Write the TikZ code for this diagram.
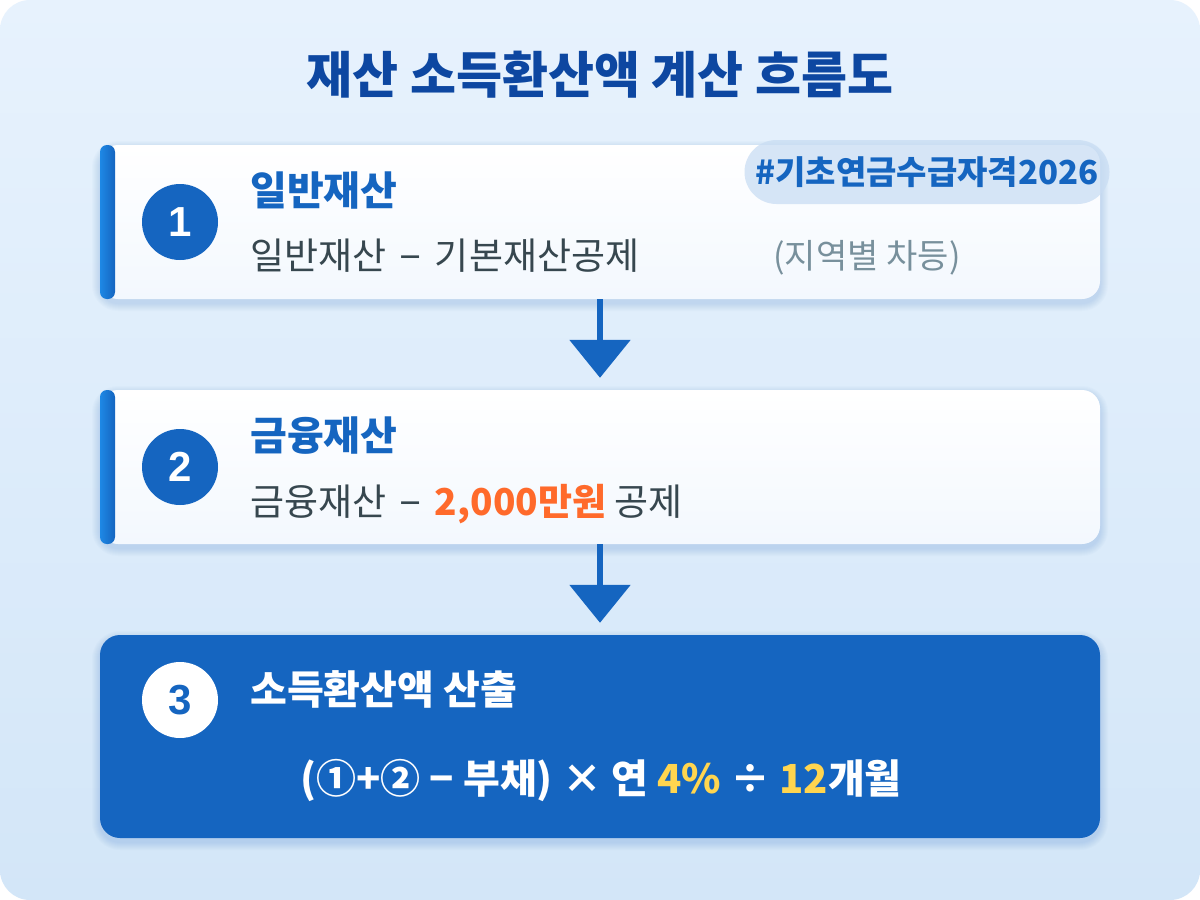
\documentclass[tikz,border=0pt]{standalone}
\usepackage{fontspec}
\setmainfont{Noto Sans CJK KR}
\newfontfamily\latinbold{Liberation Sans}[BoldFont={* Bold}]
\usetikzlibrary{arrows.meta}
\definecolor{bgtop}{HTML}{E7F2FD}
\definecolor{bgbot}{HTML}{D3E6F8}
\definecolor{titleblue}{HTML}{0D47A1}
\definecolor{mainblue}{HTML}{1565C0}
\definecolor{barblue}{HTML}{1E88E5}
\definecolor{bodygrey}{HTML}{37474F}
\definecolor{notegrey}{HTML}{78909C}
\definecolor{tagfill}{HTML}{C9DDF3}
\definecolor{accentorange}{HTML}{FF6A2B}
\definecolor{accentyellow}{HTML}{FFD54F}
\definecolor{boxtop}{HTML}{FFFFFF}
\definecolor{boxbot}{HTML}{F3F8FE}
\definecolor{shadowblue}{HTML}{1565C0}
\newcommand{\wideminus}{\hspace{13bp}{\latinbold −}\hspace{14bp}}
\tikzset{
  stepcard/.style={rounded corners=18bp, top color=boxtop, bottom color=boxbot, draw=none},
  finalcard/.style={rounded corners=20bp, fill=mainblue, draw=none},
  softshadow/.style={fill=shadowblue, opacity=0.018, draw=none},
  accentbar/.style={rounded corners=7bp, left color=barblue, right color=mainblue, draw=none},
  numcircle/.style={circle, fill=mainblue, minimum size=76bp, inner sep=0pt,
    text=white, font=\fontsize{42bp}{46bp}\selectfont\latinbold\bfseries},
  numcirclewhite/.style={numcircle, fill=white, text=mainblue},
  headtext/.style={anchor=base west, inner sep=0pt, text=mainblue, font=\fontsize{40bp}{44bp}\selectfont\bfseries},
  bodytext/.style={anchor=base west, inner sep=0pt, text=bodygrey, font=\fontsize{37bp}{41bp}\selectfont},
  flowarrow/.style={draw=mainblue, line width=6bp, -{Triangle[width=60bp,length=38bp]}, shorten >=12bp},
}
\begin{document}
\begin{tikzpicture}[x=1bp,y=-1bp]
\useasboundingbox (0,0) rectangle (1200,900);
\fill[white] (0,0) rectangle (1200,900);
\path[rounded corners=30bp, top color=bgtop, bottom color=bgbot] (0,0) rectangle (1200,900);

\node[text=titleblue, font=\fontsize{50bp}{54bp}\selectfont\bfseries] (title) at (600,75) {재산 소득환산액 계산 흐름도};

% soft shadows
\foreach \i in {1,...,8} {
  \path[softshadow, rounded corners={18bp+\i bp}] (100-\i,145-\i+4) rectangle (1100+\i,299+\i+4);
  \path[softshadow, rounded corners={18bp+\i bp}] (100-\i,390-\i+4) rectangle (1100+\i,544+\i+4);
  \path[softshadow, rounded corners={20bp+\i bp}] (100-\i,635-\i+4) rectangle (1100+\i,838+\i+4);
}

% Card 1
\path[stepcard] (100,145) rectangle (1100,299);
\node[inner sep=0pt, minimum width=1000bp, minimum height=154bp] (box1) at (600,222) {};
\path[accentbar] (100,145) rectangle (115,299);
\node[numcircle] (c1) at (180,222) {1};
\node[headtext] (h1) at (250,205) {일반재산};
\node[bodytext] (b1) at (250,269) {일반재산\wideminus 기본재산공제};
\node[fill=tagfill, fill opacity=0.75, text opacity=1, rounded corners=32bp, minimum width=365bp, minimum height=64bp,
  text=mainblue, font=\fontsize{33bp}{37bp}\selectfont\bfseries] (tag) at (927,172) {\#기초연금수급자격2026};
\node[text=notegrey, font=\fontsize{34bp}{38bp}\selectfont] (note) at (867,258) {(지역별 차등)};

% Card 2
\path[stepcard] (100,390) rectangle (1100,544);
\node[inner sep=0pt, minimum width=1000bp, minimum height=154bp] (box2) at (600,467) {};
\path[accentbar] (100,390) rectangle (115,544);
\node[numcircle] (c2) at (180,467) {2};
\node[headtext] (h2) at (250,450) {금융재산};
\node[bodytext] (b2) at (250,515) {금융재산\wideminus\textcolor{accentorange}{\bfseries 2,000만원} 공제};

% Card 3
\path[finalcard] (100,635) rectangle (1100,838);
\node[inner sep=0pt, minimum width=1000bp, minimum height=203bp] (box3) at (600,736.5) {};
\node[numcirclewhite] (c3) at (180,700) {3};
\node[headtext, text=white] (h3) at (250,704) {소득환산액 산출};
\node[text=white, font=\fontsize{40bp}{44bp}\selectfont\bfseries] (formula) at (601,780)
  {(①+② − 부채) × 연 \textcolor{accentyellow}{4\%} ÷ \textcolor{accentyellow}{12}개월};

% Arrows
\draw[flowarrow] (box1.south) -- (box2.north);
\draw[flowarrow] (box2.south) -- (box3.north);
\end{tikzpicture}
\end{document}
